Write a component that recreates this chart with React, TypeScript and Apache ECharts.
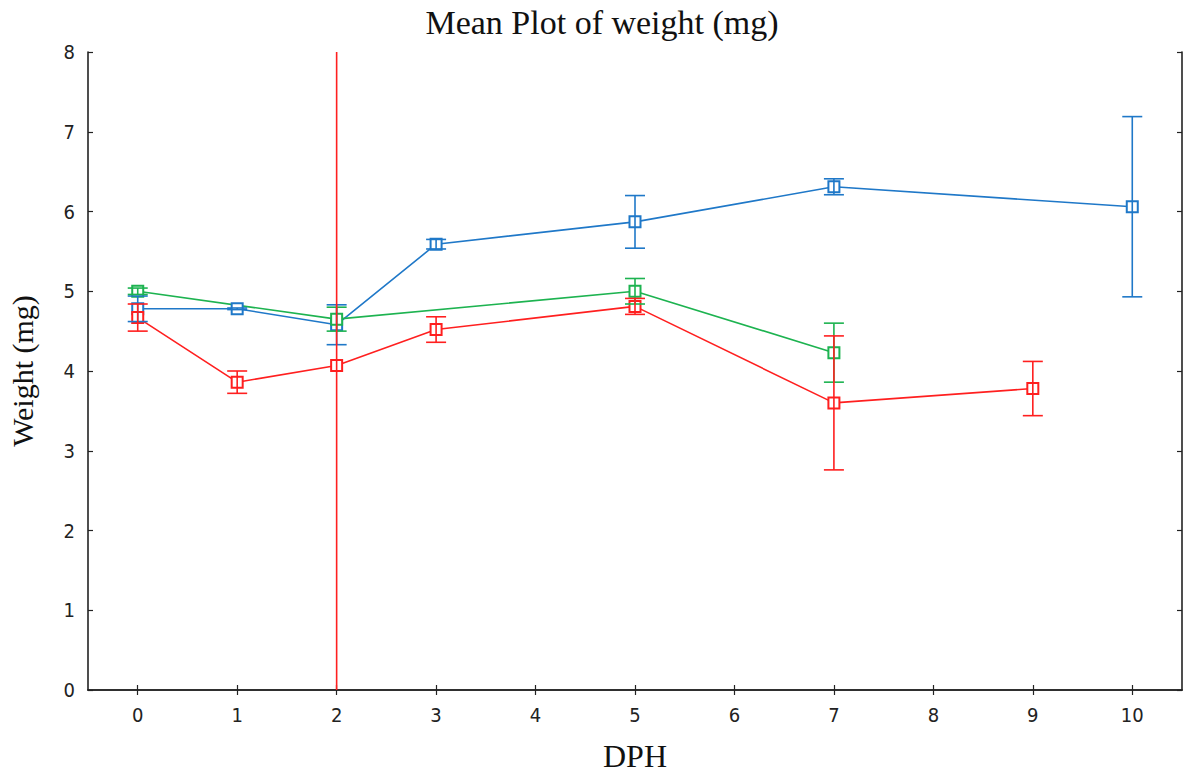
import React, { useEffect, useRef } from "react";
import * as echarts from "echarts";

const categories = ["0", "1", "2", "3", "4", "5", "6", "7", "8", "9", "10"];
const yTicks = [0, 1, 2, 3, 4, 5, 6, 7, 8];

// [DPH, mean, errorHalfWidth]
const blueData = [
  [0, 4.78, 0.16],
  [1, 4.78, 0.01],
  [2, 4.58, 0.25],
  [3, 5.59, 0.06],
  [5, 5.87, 0.33],
  [7, 6.31, 0.1],
  [10, 6.06, 1.13],
];
const greenData = [
  [0, 5.0, 0.04],
  [2, 4.65, 0.15],
  [5, 5.0, 0.16],
  [7, 4.23, 0.37],
];
const redData = [
  [0, 4.67, 0.17],
  [1, 3.86, 0.14],
  [2, 4.07, 9.0],
  [3, 4.52, 0.16],
  [5, 4.81, 0.1],
  [7, 3.6, 0.84],
  [9, 3.78, 0.34],
];

const BLUE = "#1f78c8";
const GREEN = "#1db350";
const RED = "#ff1f1f";
const LABEL_FONT = "'Liberation Sans Narrow', 'DejaVu Sans Condensed', 'Arial Narrow', 'Liberation Sans', Arial, sans-serif";
const SERIF = "'Liberation Serif', 'Times New Roman', 'DejaVu Serif', serif";

function lineSeries(name: string, data: number[][], color: string) {
  return {
    name,
    type: "line",
    xAxisIndex: 0,
    yAxisIndex: 0,
    data: data.map((d) => [d[0], d[1]]),
    symbol: "emptyRect",
    symbolSize: 11,
    showSymbol: true,
    lineStyle: { color, width: 1.6 },
    itemStyle: { color, borderColor: color, borderWidth: 1.6 },
    z: 3,
  };
}

function errorSeries(name: string, data: number[][], color: string) {
  return {
    name: name + "-err",
    type: "custom",
    xAxisIndex: 0,
    yAxisIndex: 0,
    data: data.map((d) => [d[0], d[1] - d[2], d[1] + d[2]]),
    z: 4,
    renderItem: (params: any, api: any) => {
      const x = api.value(0);
      const lo = api.coord([x, api.value(1)]);
      const hi = api.coord([x, api.value(2)]);
      const cs = params.coordSys;
      const top = cs.y;
      const bottom = cs.y + cs.height;
      const yHi = Math.max(hi[1], top);
      const yLo = Math.min(lo[1], bottom);
      const half = 10;
      const style = { stroke: color, lineWidth: 1.6 };
      const children: any[] = [
        { type: "line", shape: { x1: lo[0], y1: yHi, x2: lo[0], y2: yLo }, style },
      ];
      if (hi[1] >= top) {
        children.push({ type: "line", shape: { x1: hi[0] - half, y1: hi[1], x2: hi[0] + half, y2: hi[1] }, style });
      }
      if (lo[1] <= bottom) {
        children.push({ type: "line", shape: { x1: lo[0] - half, y1: lo[1], x2: lo[0] + half, y2: lo[1] }, style });
      }
      return { type: "group", children };
    },
  };
}

export default function App() {
  const ref = useRef<HTMLDivElement>(null);
  useEffect(() => {
    if (!ref.current) return;
    const chart = echarts.init(ref.current, null, { renderer: "svg" });
    const axisLine = { show: true, lineStyle: { color: "#222", width: 1.6 } };
    const axisTick = { show: true, inside: true, length: 5, lineStyle: { color: "#222", width: 1.2 } };
    chart.setOption({
      animation: false,
      backgroundColor: "#ffffff",
      title: {
        text: "Mean Plot of weight (mg)",
        left: 597,
        top: 0,
        textAlign: "center",
        textStyle: { fontFamily: SERIF, fontSize: 34, fontWeight: "normal", color: "#111" },
      },
      grid: { left: 88, right: 2, top: 52, bottom: 86, containLabel: false, outerBoundsMode: "none" },
      xAxis: [
        {
          type: "category",
          data: categories,
          boundaryGap: true,
          position: "bottom",
          axisLine,
          axisTick: { ...axisTick, alignWithLabel: true },
          axisLabel: { fontFamily: LABEL_FONT, fontSize: 20, color: "#222", margin: 15 },
          splitLine: { show: false },
          name: "DPH",
          nameLocation: "middle",
          nameGap: 50,
          nameTextStyle: { fontFamily: SERIF, fontSize: 32, color: "#111" },
        },
        {
          type: "category",
          data: categories,
          boundaryGap: true,
          position: "top",
          axisLine,
          axisTick: { ...axisTick, alignWithLabel: true },
          axisLabel: { show: false },
          splitLine: { show: false },
        },
      ],
      yAxis: [
        {
          type: "value",
          min: yTicks[0],
          max: yTicks[yTicks.length - 1],
          interval: 1,
          position: "left",
          axisLine,
          axisTick,
          axisLabel: { fontFamily: LABEL_FONT, fontSize: 20, color: "#222", margin: 13 },
          splitLine: { show: false },
          name: "Weight (mg)",
          nameLocation: "middle",
          nameGap: 51,
          nameRotate: 90,
          nameTextStyle: { fontFamily: SERIF, fontSize: 30, color: "#111" },
        },
        {
          type: "value",
          min: yTicks[0],
          max: yTicks[yTicks.length - 1],
          interval: 1,
          position: "right",
          axisLine,
          axisTick,
          axisLabel: { show: false },
          splitLine: { show: false },
        },
      ],
      series: [
        lineSeries("blue", blueData, BLUE),
        lineSeries("green", greenData, GREEN),
        lineSeries("red", redData, RED),
        errorSeries("blue", blueData, BLUE),
        errorSeries("green", greenData, GREEN),
        errorSeries("red", redData, RED),
      ],
    });
    return () => chart.dispose();
  }, []);
  return (
    <div
      ref={ref}
      style={{ position: "absolute", left: 0, top: 0, width: 1184, height: 776 }}
    />
  );
}
